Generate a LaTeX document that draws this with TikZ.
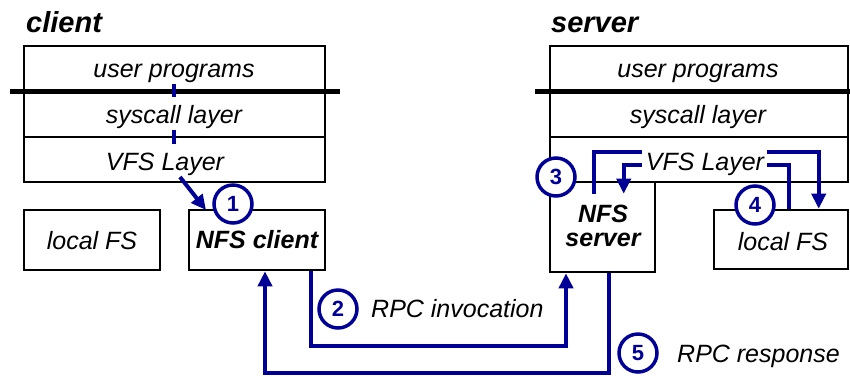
\documentclass[tikz,border=0pt]{standalone}
\usepackage{fontspec}
\setmainfont{Liberation Sans}
\usetikzlibrary{arrows.meta,calc}
\definecolor{nfsblue}{RGB}{0,0,150}
\begin{document}
\begin{tikzpicture}[x=1pt,y=-1pt,
  layerbox/.style={draw, line width=2.6pt, inner sep=0pt, minimum width=#1, minimum height=45pt},
  fsbox/.style={draw, line width=2.6pt, inner sep=0pt},
  txt/.style={font=\fontsize{25}{30}\selectfont\itshape, inner sep=0pt},
  btxt/.style={font=\fontsize{25}{24}\selectfont\bfseries\itshape, inner sep=0pt, align=center},
  titletxt/.style={font=\fontsize{29}{34}\selectfont\bfseries\itshape, inner sep=0pt, anchor=base west},
  conn/.style={draw=nfsblue, line width=4pt},
  arr/.style={conn, -{Triangle[length=15pt,width=14pt]}},
  num/.style={circle, draw=nfsblue, fill=white, line width=3.5pt, minimum size=38pt, inner sep=0pt, text=nfsblue, font=\fontsize{22}{22}\selectfont\bfseries}]
\useasboundingbox (0,0) rectangle (850,376);

% titles
\node[titletxt] (tclient) at (26,32) {client};
\node[titletxt] (tserver) at (551,32) {server};

% client stack
\node[layerbox=301pt] (cup) at (174.5,68.5) {};
\node[layerbox=301pt, minimum height=46pt] (csys) at (174.5,114) {};
\node[layerbox=301pt] (cvfs) at (174.5,159.5) {};
\node[txt, anchor=base] (cupt) at (174,77) {user programs};
\node[txt, anchor=base] (csyst) at (174,123) {syscall layer};
\node[txt, anchor=base] (cvfst) at (165,170) {VFS Layer};
\draw[line width=5pt] (10,91) -- (340,91);
\draw[nfsblue, line width=4pt] (174,84) -- (174,97);
\draw[nfsblue, line width=4pt] (174,130) -- (174,144);

% server stack
\node[layerbox=298pt] (srvup) at (699,68.5) {};
\node[layerbox=298pt, minimum height=46pt] (ssys) at (699,114) {};
\node[layerbox=298pt] (svfs) at (699,159.5) {};
\node[txt, anchor=base] (supt) at (698,77) {user programs};
\node[txt, anchor=base] (ssyst) at (698,123) {syscall layer};
\node[txt, anchor=base] (svfst) at (705,170) {VFS Layer};
\draw[line width=5pt] (535,91) -- (850,91);

% client file system boxes
\node[fsbox, minimum width=136pt, minimum height=60pt] (clfs) at (92,240) {};
\node[txt, anchor=base] at (92,249) {local FS};
\node[fsbox, minimum width=136pt, minimum height=60pt] (nfsc) at (257,240) {};
\node[btxt, anchor=base] at (257,248) {NFS client};

% server boxes
\node[fsbox, minimum width=105pt, minimum height=90pt] (nfss) at (602.5,227) {};
\node[btxt] at (603,226) {NFS\\server};
\node[fsbox, minimum width=134pt, minimum height=59pt] (slfs) at (781,239.5) {};
\node[txt, anchor=base] at (783,250) {local FS};

% coordinates
\coordinate (c1s) at (180,177);
\coordinate (c1e) at (206,210);
\coordinate (sv1) at (642,152);
\coordinate (sv2) at (642,165);
\coordinate (sv3) at (767,152);
\coordinate (sv4) at (767,165);
\coordinate (rpc2) at (566,346);
\coordinate (rpc5) at (265,373);

% step 1
\draw[arr] (c1s) -- (c1e);

% server VFS paths
\draw[conn] ($(nfss.north west)+(45,13)$) |- (sv1);
\draw[arr] (sv2) -| ($(nfss.north west)+(75,13)$);
\draw[arr] (sv3) -| ($(slfs.north west)+(106,0)$);
\draw[conn] ($(slfs.north west)+(76,0)$) |- (sv4);

% RPC
\draw[arr] ($(nfsc.south east)+(-15,0)$) |- (rpc2) -- (rpc2 |- nfss.south);
\draw[arr] ($(nfss.south west)+(60,0)$) |- (rpc5) -- (rpc5 |- nfsc.south);
\node[txt, anchor=base west] (lrpc2) at (371,317) {RPC invocation};
\node[txt, anchor=base west] (lrpc5) at (677,362) {RPC response};

% step numbers
\node[num] (n1) at (233,204) {1};
\node[num] (n2) at (338,309) {2};
\node[num] (n3) at (556,177) {3};
\node[num] (n4) at (755,205) {4};
\node[num] (n5) at (638,353) {5};
\end{tikzpicture}
\end{document}
